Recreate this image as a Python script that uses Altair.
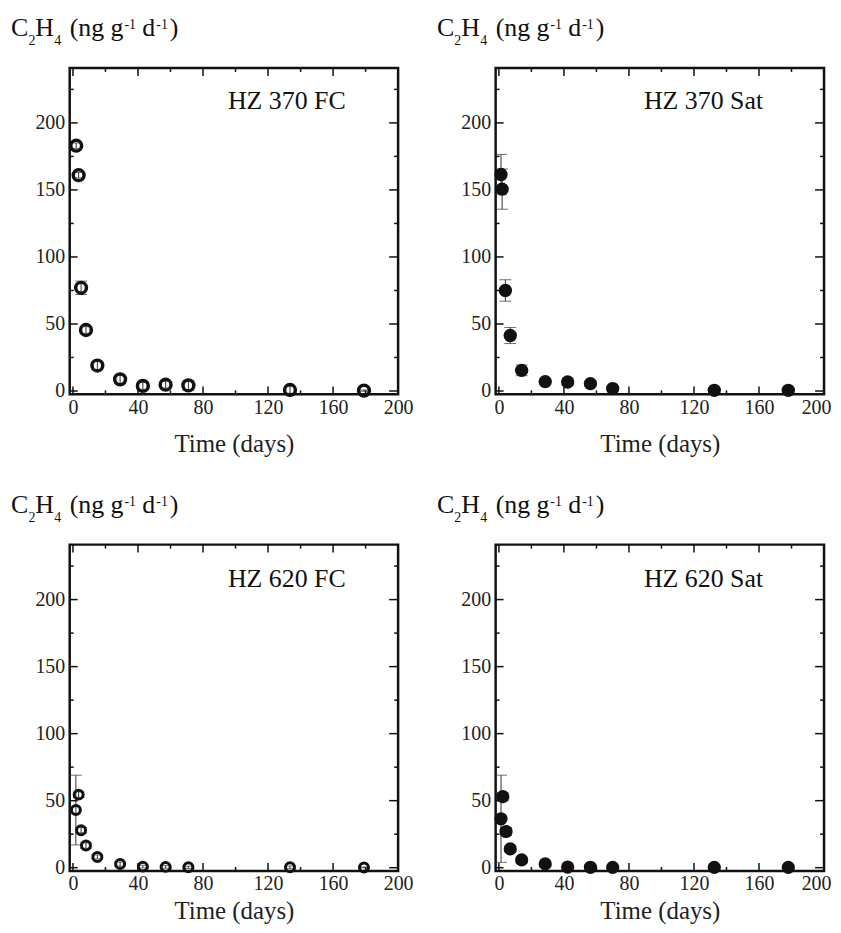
import altair as alt
import pandas as pd

# ---------------- data ----------------
fc370_days = [2, 3.5, 5, 8, 15, 29, 43, 57, 71, 133.5, 179]
fc370_vals = [183, 161, 77, 45.5, 19, 8.7, 3.8, 4.7, 4.2, 0.8, 0.3]
fc370_errs = [2, 2, 5, 2.5, 3, 3, 2.5, 2.5, 3.5, 2.5, 0.5]

sat370_days = [1.3, 2, 4, 7, 14, 28.5, 42.3, 56.3, 70, 132.5, 178]
sat370_vals = [161.5, 150.6, 75, 41.4, 15.4, 7, 6.7, 5.5, 1.8, 0.5, 0.5]
sat370_errs = [15, 15, 8, 6, 4, 2, 2, 2, 1, 0.5, 0.5]

fc620_days = [1.8, 3.5, 5, 8, 15, 29, 43, 57, 71, 133.5, 179]
fc620_vals = [43, 54.5, 28, 16.5, 8, 2.7, 0.8, 0.6, 0.3, 0.3, 0.2]
fc620_errs = [26, 2, 2, 2, 1.5, 1.5, 1, 1, 0.8, 1, 0.3]

sat620_days = [1.3, 2.4, 4.4, 7, 14, 28.5, 42.3, 56.3, 70, 132.5, 178]
sat620_vals = [36.5, 53, 27, 14, 5.8, 2.8, 0.5, 0.3, 0.2, 0.2, 0.2]
sat620_errs = [32.5, 3, 3, 2, 2, 1, 0.5, 0.3, 0.2, 0.2, 0.2]

panel_labels = ["HZ 370 FC", "HZ 370 Sat", "HZ 620 FC", "HZ 620 Sat"]

x_major = [0, 40, 80, 120, 160, 200]
x_minor = [20, 60, 100, 140, 180]
y_major = [0, 50, 100, 150, 200]
y_minor = [25, 75, 125, 175, 225]

# y-label pieces: (text, size, dx, dy)
ylabel_parts = [
    ("C", 26, -59, -32),
    ("2", 14, -41.5, -23),
    ("H", 26, -34.5, -32),
    ("4", 14, -15.5, -23),
    ("(ng", 26, 0, -32),
    ("g", 26, 41, -32),
    ("-1", 14, 55, -39),
    ("d", 26, 73, -32),
    ("-1", 14, 87, -39),
    (")", 26, 100.5, -32),
]

FONT = "Liberation Serif"
W, H = 330, 328
XDOM = [-2, 200]
YDOM = [-2.5, 241]


def make_xaxis(title_pad, flush):
    kw = dict(
        values=x_major, title="Time (days)", ticks=False, domain=False, grid=False,
        labelFont=FONT, labelFontSize=20, labelColor="#222", labelPadding=3,
        labelOverlap=False, titleFont=FONT, titleFontSize=25,
        titleFontWeight="normal", titleColor="#222", titlePadding=title_pad,
    )
    if flush:
        kw.update(labelFlush=1, labelFlushOffset=7)
    else:
        kw.update(labelFlush=False)
    return alt.Axis(**kw)


YAXIS = alt.Axis(
    values=y_major, title=None, ticks=False, domain=False, grid=False,
    labelFont=FONT, labelFontSize=20, labelColor="#222", labelPadding=5,
    labelFlush=False, labelOverlap=False,
)


def panel(days, vals, errs, filled, size, sw, label, label_x, label_y, title_pad, flush):
    df = pd.DataFrame({"day": days, "v": vals, "e": errs})
    df["lo"] = df["v"] - df["e"]
    df["hi"] = df["v"] + df["e"]
    xs = alt.Scale(domain=XDOM, nice=False, zero=False)
    ys = alt.Scale(domain=YDOM, nice=False, zero=False)
    xaxis = make_xaxis(title_pad, flush)
    base = alt.Chart(df)

    def X(f):
        return alt.X(f, type="quantitative", scale=xs, axis=xaxis)

    def Y(f):
        return alt.Y(f, type="quantitative", scale=ys, axis=YAXIS)

    err = base.mark_rule(color="#333", strokeWidth=1).encode(x=X("day"), y=Y("lo"), y2="hi:Q")
    cap_lo = base.mark_tick(orient="horizontal", size=12, thickness=1, color="#333").encode(x=X("day"), y=Y("lo"))
    cap_hi = base.mark_tick(orient="horizontal", size=12, thickness=1, color="#333").encode(x=X("day"), y=Y("hi"))
    if filled:
        pts = base.mark_circle(size=size, color="#111", opacity=1)
    else:
        pts = base.mark_point(shape="circle", size=size, strokeWidth=sw, color="#111", filled=False, opacity=1)
    pts = pts.encode(x=X("day"), y=Y("v"))

    layers = [err, cap_lo, cap_hi, pts]

    def xticks(vals_, length, top):
        d = alt.Chart(pd.DataFrame({"t": vals_}))
        if top:
            y1, y2 = alt.value(0), alt.value(length)
        else:
            y1, y2 = alt.value(H), alt.value(H - length)
        return d.mark_rule(color="#111", strokeWidth=1.5).encode(x=X("t"), y=y1, y2=y2)

    def yticks(vals_, length, right):
        d = alt.Chart(pd.DataFrame({"t": vals_}))
        if right:
            x1, x2 = alt.value(W), alt.value(W - length)
        else:
            x1, x2 = alt.value(0), alt.value(length)
        return d.mark_rule(color="#111", strokeWidth=1.5).encode(y=Y("t"), x=x1, x2=x2)

    layers += [
        xticks(x_major, 8, False), xticks(x_minor, 4, False),
        xticks(x_major, 8, True), xticks(x_minor, 4, True),
        yticks(y_major, 8, False), yticks(y_minor, 4, False),
        yticks(y_major, 9, True), yticks(y_minor, 4, True),
    ]

    dummy = alt.Chart(pd.DataFrame({"a": [0]}))
    for txt, fs, dx, dy in ylabel_parts:
        layers.append(
            dummy.mark_text(text=txt, font=FONT, fontSize=fs, align="left", baseline="alphabetic", color="#111")
            .encode(x=alt.value(dx), y=alt.value(dy))
        )
    layers.append(
        dummy.mark_text(text=label, font=FONT, fontSize=26, align="left", baseline="alphabetic", color="#111")
        .encode(x=alt.value(label_x), y=alt.value(label_y))
    )
    return alt.layer(*layers).properties(width=W, height=H)


p1 = panel(fc370_days, fc370_vals, fc370_errs, False, 118, 3.5, panel_labels[0], 159, 41, 14, False)
p2 = panel(sat370_days, sat370_vals, sat370_errs, True, 180, 0, panel_labels[1], 149, 41, 14, True)
p3 = panel(fc620_days, fc620_vals, fc620_errs, False, 81, 3.0, panel_labels[2], 159, 43, 5, False)
p4 = panel(sat620_days, sat620_vals, sat620_errs, True, 177, 0, panel_labels[3], 149, 43, 5, True)

chart = (
    alt.concat(p1, p2, p3, p4, columns=2, spacing={"row": 151, "column": 98}, bounds="flush")
    .properties(padding={"left": 1, "top": 3, "right": 0, "bottom": 0}, background="white")
    .configure_view(stroke="#111", strokeWidth=2.5)
)

chart.save("out.html", embed_options={"renderer": "svg", "actions": False})
